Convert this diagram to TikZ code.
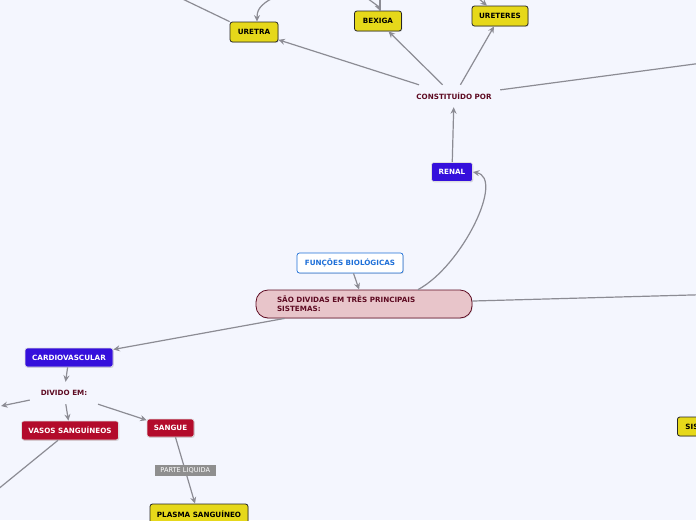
\documentclass[tikz,border=0pt]{standalone}
\usepackage{fontspec}
\setmainfont{DejaVu Sans}
\usetikzlibrary{arrows.meta,shadows}
\definecolor{bgc}{HTML}{F4F6FE}
\definecolor{yelf}{HTML}{E6D81A}
\definecolor{bluf}{HTML}{3510DC}
\definecolor{redf}{HTML}{B30B2B}
\definecolor{pinkf}{HTML}{E8C5CA}
\definecolor{maroon}{HTML}{5E0B22}
\definecolor{linec}{HTML}{8C8C94}
\definecolor{btext}{HTML}{1E6FD8}
\definecolor{lblf}{HTML}{8F8F8F}
\tikzset{
  base/.style={rounded corners=2.5pt, font=\bfseries\fontsize{7.2}{8}\selectfont,
    inner sep=0pt, minimum height=20pt,
    drop shadow={opacity=0.25,shadow xshift=0.8pt,shadow yshift=-0.9pt}},
  yel/.style={base, fill=yelf, draw=black!85, line width=0.8pt, text=black},
  blu/.style={base, fill=bluf, draw=white!75!gray, line width=0.6pt, text=white},
  redn/.style={base, fill=redf, draw=white!75!gray, line width=0.6pt, text=white},
  plaintext/.style={font=\bfseries\fontsize{7.2}{8}\selectfont, text=maroon, inner sep=0pt},
  conn/.style={draw=linec, line width=1.2pt, -{Stealth[length=6.5pt,width=6pt]}},
  pline/.style={draw=linec, line width=1.2pt},
  lbl/.style={fill=lblf, text=white, font=\fontsize{6.6}{7}\selectfont, inner sep=0pt,
    minimum width=61pt, minimum height=11pt}
}
\begin{document}
\begin{tikzpicture}[x=1pt,y=-1pt]
\fill[bgc] (0,0) rectangle (696,520);
\useasboundingbox (0,0) rectangle (696,520);

% nodes
\node[yel, minimum width=48pt] (uretra) at (254,32) {URETRA};
\node[yel, minimum width=47pt] (bexiga) at (378,21) {BEXIGA};
\node[yel, minimum width=56pt] (ureteres) at (500,16) {URETERES};
\node[plaintext, minimum width=92pt, minimum height=22pt] (constit) at (454,96) {CONSTITUÍDO POR};
\node[blu, minimum width=41pt, minimum height=19pt] (renal) at (452,172) {RENAL};
\node[base, fill=white, draw=btext, line width=0.7pt, text=btext, minimum width=106pt] (funcoes) at (350,263) {FUNÇÕES BIOLÓGICAS};
\node[fill=pinkf, draw=maroon, line width=0.8pt, rounded corners=12pt, text=maroon,
  font=\bfseries\fontsize{7.2}{9}\selectfont, text width=174pt, align=left,
  inner xsep=21pt, inner ysep=0pt, minimum height=28pt,
  drop shadow={opacity=0.2,shadow xshift=0.8pt,shadow yshift=-0.9pt}] (sao) at (364,304)
  {SÃO DIVIDAS EM TRÊS PRINCIPAIS\\SISTEMAS:};
\node[blu, minimum width=88pt, minimum height=19pt] (cardio) at (69,357.5) {CARDIOVASCULAR};
\node[plaintext, minimum width=68pt, minimum height=22pt] (divido) at (64,393) {DIVIDO EM:};
\node[redn, minimum width=97pt, minimum height=19pt] (vasos) at (70,430.5) {VASOS SANGUÍNEOS};
\node[redn, minimum width=47pt, minimum height=18pt] (sangue) at (170.5,428) {SANGUE};
\node[yel, minimum width=98pt, minimum height=21pt] (plasma) at (199,514.5) {PLASMA SANGUÍNEO};
\node[yel, anchor=west, text width=50pt, align=left, inner xsep=8pt, minimum height=19pt] (sis) at (677,426.5) {SIS};

% off-page coordinates
\coordinate (offA) at (143,-20);
\coordinate (offB) at (275,-3);
\coordinate (offC) at (364,-4);
\coordinate (offD) at (380,-5);
\coordinate (offE) at (478,-2);
\coordinate (offF) at (800,50);
\coordinate (offG) at (800,292);
\coordinate (offH) at (1,406);
\coordinate (offI) at (-30,512);

% connectors
\draw[pline] (offA) -- (uretra.north west);
\draw[conn] (offB) .. controls (258,5) and (257,12) .. ([xshift=3pt]uretra.north);
\draw[conn] (offC) .. controls (378,6) .. ([xshift=2pt]bexiga.north);
\draw[pline] (offD) -- ([xshift=2pt]bexiga.north);
\draw[conn] (offE) -- ([xshift=-13pt]ureteres.north);
\draw[conn] (constit) -- (uretra);
\draw[conn] (constit) -- (bexiga);
\draw[conn] (constit) -- (ureteres);
\draw[pline] (constit) -- (offF);
\draw[conn] (renal) -- (constit);
\draw[conn] ([xshift=54pt]sao.north) .. controls (462,266) and (505,178) .. (renal.east);
\draw[conn] (funcoes) -- (sao);
\draw[pline] (sao) -- (offG);
\draw[conn] (sao) -- (cardio);
\draw[conn] (cardio) -- (divido);
\draw[conn] (divido) -- (offH);
\draw[conn] (divido) -- (vasos);
\draw[conn] (divido) -- (sangue);
\draw[pline] (vasos) -- (offI);
\draw[conn] ([xshift=5pt]sangue.south) -- node[lbl] {PARTE LIQUIDA} ([xshift=-4pt]plasma.north);
\end{tikzpicture}
\end{document}
